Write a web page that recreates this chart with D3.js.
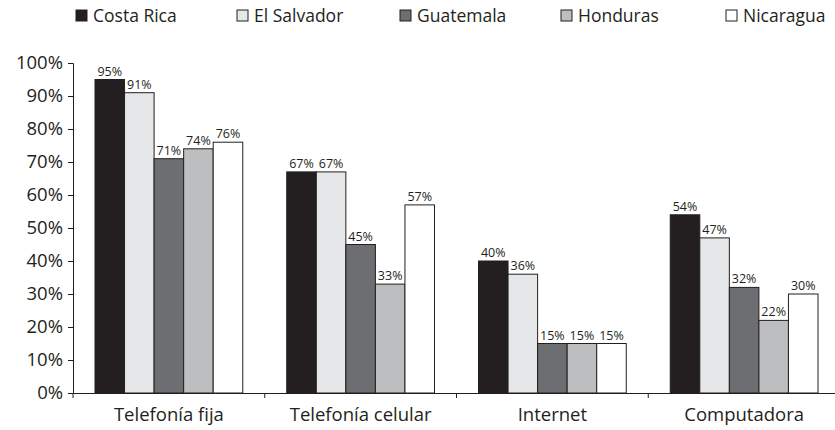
<!DOCTYPE html>
<html>
<head>
<meta charset="utf-8">
<script src="https://cdn.jsdelivr.net/npm/d3@7"></script>
<style>
  body { margin: 0; background: #fff; }
  svg text { font-family: "Open Sans", "Noto Sans", sans-serif; fill: #231f20; }
</style>
</head>
<body>
<svg id="chart" width="835" height="430"></svg>
<script>
// Access to ICT by household, per country
const categories = ["Telefonía fija", "Telefonía celular", "Internet", "Computadora"];
const countries = ["Costa Rica", "El Salvador", "Guatemala", "Honduras", "Nicaragua"];
const costaRica  = [95, 67, 40, 54];
const elSalvador = [91, 67, 36, 47];
const guatemala  = [71, 45, 15, 32];
const honduras   = [74, 33, 15, 22];
const nicaragua  = [76, 57, 15, 30];
const yTicks = [0, 10, 20, 30, 40, 50, 60, 70, 80, 90, 100];
const fills = ["#231f20", "#e6e7e8", "#6d6e71", "#bcbec0", "#ffffff"];

const seriesValues = [costaRica, elSalvador, guatemala, honduras, nicaragua];

const svg = d3.select("#chart");
const margin = { left: 73, top: 63, bottom: 37 };
const height = 430;
const plotBottom = height - margin.bottom;

const x0 = d3.scaleBand().domain(categories).range([margin.left, margin.left + 767]).paddingInner(0).paddingOuter(0);
const x1 = d3.scaleBand().domain(countries).range([22, x0.bandwidth() - 22]);
const y = d3.scaleLinear().domain([0, 100]).range([plotBottom, margin.top]);
const color = d3.scaleOrdinal().domain(countries).range(fills);

// Y axis
const yAxis = svg.append("g")
  .attr("transform", `translate(${margin.left},0)`)
  .call(d3.axisLeft(y).tickValues(yTicks).tickSize(5).tickPadding(5).tickFormat(d => d + "%"));
yAxis.select(".domain").attr("stroke", "#231f20");
yAxis.selectAll(".tick line").attr("stroke", "#231f20");
yAxis.selectAll("text").style("font-size", "18.5px").attr("fill", "#231f20");

// X axis
const xAxis = svg.append("g")
  .attr("transform", `translate(0,${plotBottom})`)
  .call(d3.axisBottom(x0).tickSize(0).tickPadding(15));
xAxis.select(".domain").attr("stroke", "#231f20");
xAxis.selectAll("text").style("font-size", "18.5px").attr("fill", "#231f20");
// Boundary ticks between categories
svg.append("g").selectAll("line")
  .data(categories)
  .join("line")
  .attr("x1", d => x0(d)).attr("x2", d => x0(d))
  .attr("y1", plotBottom).attr("y2", plotBottom + 5)
  .attr("stroke", "#231f20");

// Bars
const rows = [];
categories.forEach((c, ci) => {
  countries.forEach((k, ki) => rows.push({ cat: c, country: k, value: seriesValues[ki][ci] }));
});

const bars = svg.append("g");
bars.selectAll("rect")
  .data(rows)
  .join("rect")
  .attr("x", d => x0(d.cat) + x1(d.country))
  .attr("y", d => y(d.value))
  .attr("width", x1.bandwidth())
  .attr("height", d => plotBottom - y(d.value))
  .attr("fill", d => color(d.country))
  .attr("stroke", "#231f20")
  .attr("stroke-width", 1);

bars.selectAll("text")
  .data(rows)
  .join("text")
  .attr("x", d => x0(d.cat) + x1(d.country) + x1.bandwidth() / 2)
  .attr("y", d => y(d.value) - 4)
  .attr("text-anchor", "middle")
  .style("font-size", "12.5px")
  .text(d => d.value + "%");

// Legend
const legendX = [76, 237, 400, 561, 726];
const legend = svg.append("g");
const items = legend.selectAll("g")
  .data(countries)
  .join("g")
  .attr("transform", (d, i) => `translate(${legendX[i]},10)`);
items.append("rect")
  .attr("width", 11).attr("height", 11)
  .attr("fill", d => color(d))
  .attr("stroke", "#231f20");
items.append("text")
  .attr("x", 17).attr("y", 11.5)
  .style("font-size", "17.5px")
  .text(d => d);
</script>
</body>
</html>
